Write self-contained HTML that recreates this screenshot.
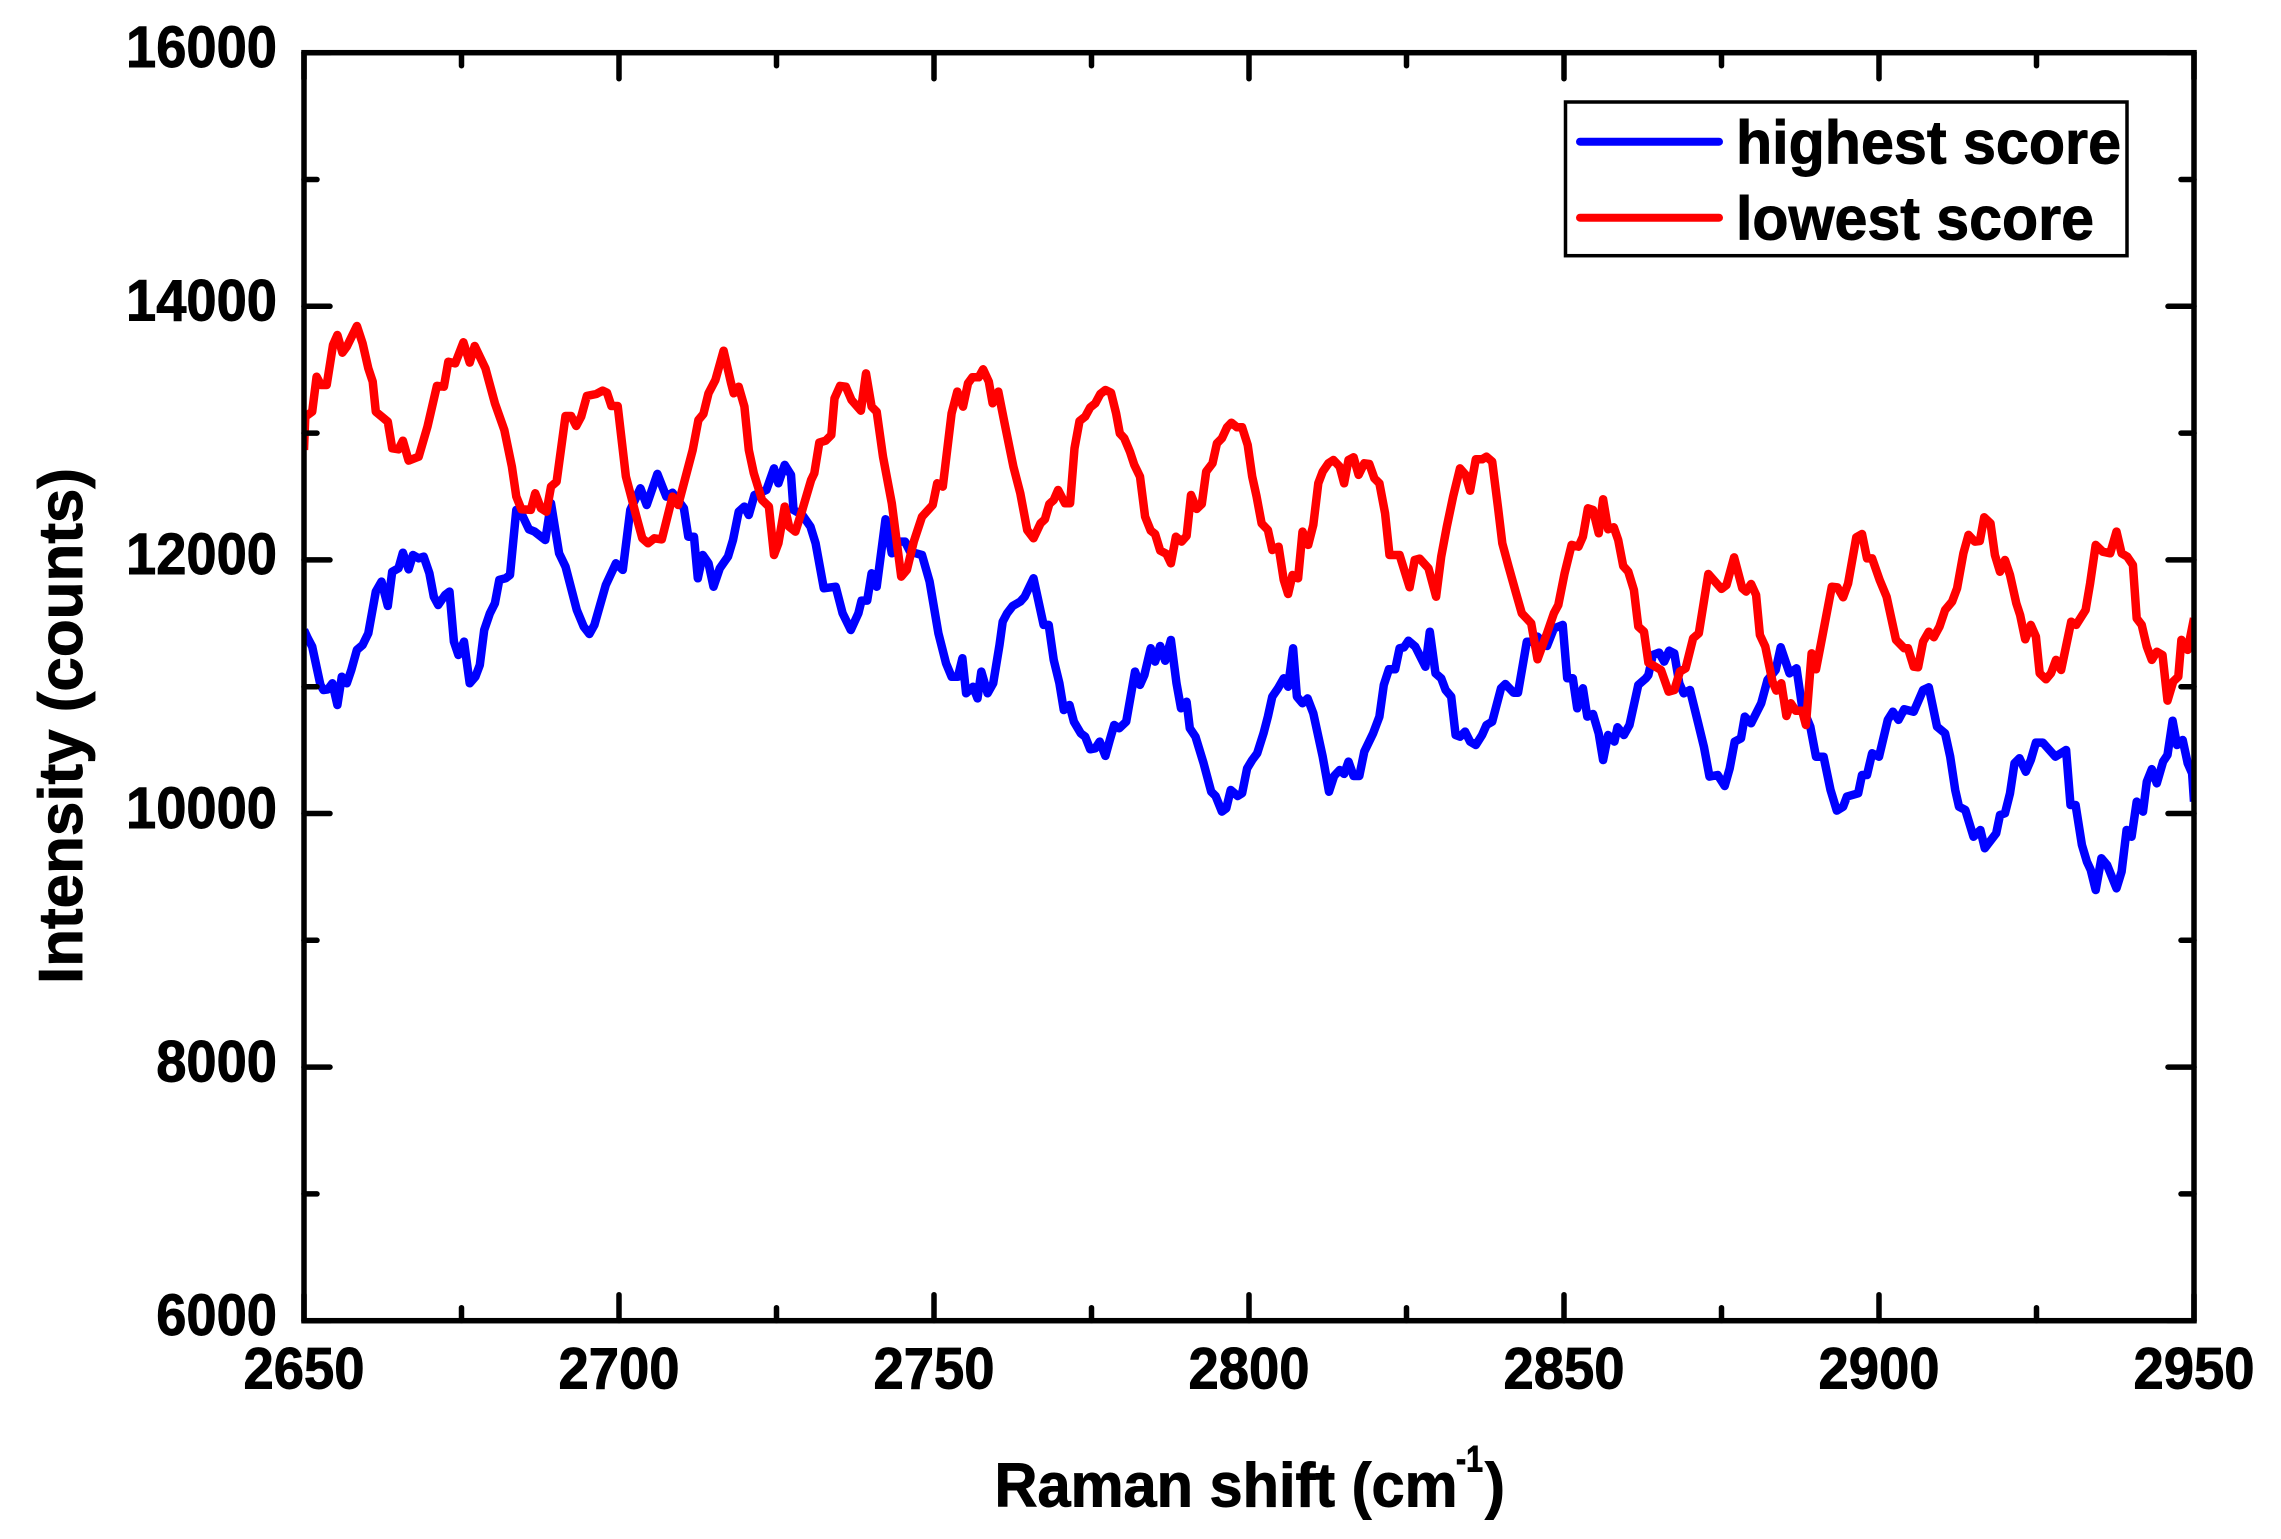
<!DOCTYPE html>
<html lang="en">
<head>
<meta charset="utf-8">
<title>Raman intensity chart</title>
<style>
html,body{margin:0;padding:0;background:#fff;}
svg{display:block;}
text{font-family:"Liberation Sans",Arial,sans-serif;font-weight:bold;fill:#000;stroke:#000;stroke-width:0.9px;}
</style>
</head>
<body>
<svg id="chart" width="2281" height="1539" viewBox="0 0 2281 1539" xmlns="http://www.w3.org/2000/svg">
  <defs><clipPath id="plot-clip"><rect x="304" y="52.7" width="1890" height="1268"/></clipPath></defs>
  <rect x="0" y="0" width="2281" height="1539" fill="#fff"/>
  <g id="series" clip-path="url(#plot-clip)"></g>
  <g id="ticks"></g>
  <rect x="304" y="52.7" width="1890" height="1268" fill="none" stroke="#000" stroke-width="5.5"/>
  <g id="tick-labels"></g>
  <text transform="translate(82,984) rotate(-90)" font-size="62" textLength="516" lengthAdjust="spacingAndGlyphs">Intensity (counts)</text>
  <g>
    <text x="994.5" y="1506.7" font-size="62" textLength="463" lengthAdjust="spacingAndGlyphs">Raman shift (cm</text>
    <text x="1456" y="1471.7" font-size="37" textLength="27" lengthAdjust="spacingAndGlyphs">-1</text>
    <text x="1485" y="1506.7" font-size="62" textLength="20" lengthAdjust="spacingAndGlyphs">)</text>
  </g>
  <g>
    <rect x="1565.5" y="102" width="561.5" height="153.7" fill="#fff" stroke="#000" stroke-width="3.5"/>
    <line x1="1580" y1="141.7" x2="1719" y2="141.7" stroke="#0000ff" stroke-width="8" stroke-linecap="round"/>
    <text x="1736" y="163.3" font-size="61" textLength="385" lengthAdjust="spacingAndGlyphs">highest score</text>
    <line x1="1580" y1="217.7" x2="1719" y2="217.7" stroke="#ff0000" stroke-width="8" stroke-linecap="round"/>
    <text x="1736" y="239.3" font-size="61" textLength="358" lengthAdjust="spacingAndGlyphs">lowest score</text>
  </g>
</svg>
<script>
const xMajorTicks = [2650, 2700, 2750, 2800, 2850, 2900, 2950];
const xMinorTicks = [2675, 2725, 2775, 2825, 2875, 2925];
const yMajorTicks = [6000, 8000, 10000, 12000, 14000, 16000];
const yMinorTicks = [7000, 9000, 11000, 13000, 15000];

const highestShift = [2650,2650.6,2651.3,2652.6,2653.1,2653.8,2654.5,2655.3,2656,2656.8,2657.5,2658.4,2659.3,2660.2,2661.4,2662.3,2663.3,2664,2665,2665.7,2666.6,2667.3,2668.2,2669,2669.9,2670.6,2671.3,2672.4,2673.1,2673.8,2674.5,2675.4,2676.3,2677.2,2677.9,2678.6,2679.5,2680.3,2681,2682,2682.7,2683.7,2684.5,2685.7,2686.6,2688.3,2689.2,2690.5,2691.5,2693.3,2694.4,2695.3,2696.1,2697.9,2699.5,2700.6,2701.8,2703.4,2704.4,2706.1,2707.5,2708.5,2710.3,2711,2711.9,2712.5,2713.3,2714.2,2715,2716,2717.3,2718.1,2719,2719.9,2720.6,2721.5,2723.4,2724.6,2725.3,2726.3,2727.3,2727.7,2729.1,2730.4,2731.2,2732.5,2734.4,2735.5,2736.8,2738,2738.5,2739.4,2740.1,2740.9,2742.3,2743.3,2744.3,2745.4,2746.2,2748.1,2749.3,2750.7,2751.9,2752.8,2753.8,2754.5,2755.1,2756.2,2756.9,2757.5,2758.5,2759.4,2760.4,2760.9,2761.6,2762.5,2763.7,2764.4,2765.8,2767.4,2768.2,2769,2769.9,2770.6,2771.5,2772.2,2773.3,2774,2774.8,2775.6,2776.3,2777.2,2777.9,2778.6,2779.4,2780.5,2781.9,2782.7,2783.4,2784.4,2785.1,2785.9,2786.7,2787.6,2788.5,2789.2,2790.1,2790.6,2791.5,2792.8,2794,2794.7,2795.7,2796.4,2797.1,2798.2,2798.9,2799.7,2800.5,2801.3,2802.3,2803,2803.7,2804.6,2805.5,2806.2,2807,2807.6,2808.5,2809.3,2810.2,2811.7,2812.7,2813.5,2814.4,2815.1,2815.8,2816.6,2817.5,2818.3,2819.7,2820.7,2821.4,2822.2,2823.2,2823.9,2824.6,2825.3,2826.4,2828,2828.7,2829.6,2830.5,2831.2,2832.1,2832.8,2833.5,2834.3,2835.1,2836,2837,2837.7,2838.6,2840,2840.7,2842,2842.7,2844.1,2844.8,2845.8,2847.3,2848.4,2849.8,2850.5,2851.4,2852.1,2853,2853.7,2854.6,2855.5,2856.2,2857,2858,2858.5,2859.5,2860.4,2861.8,2863,2863.4,2864.1,2865.1,2865.9,2866.7,2867.5,2868.3,2869,2870,2871.3,2872.2,2873.1,2874.4,2875.5,2876.3,2877.1,2878.1,2878.7,2879.7,2881.3,2882.3,2883.6,2884.4,2885.8,2886.9,2887.8,2889.1,2890,2891.2,2892.3,2893.3,2894.3,2894.9,2896.7,2897.3,2898.1,2898.9,2900,2901.4,2902.2,2903.1,2904,2905.5,2907,2907.9,2909.2,2910.5,2911.3,2912.1,2912.7,2913.7,2915,2916.1,2916.8,2918.6,2919.2,2920,2920.8,2921.5,2922.3,2923.3,2924.1,2924.9,2926,2928,2929.7,2930.4,2931.2,2932.2,2933,2933.6,2934.4,2935.3,2936.2,2937.7,2938.5,2939.3,2940.1,2940.9,2941.9,2942.5,2943.3,2944.1,2945.1,2945.8,2946.6,2947.3,2948.2,2949,2949.7,2950];
const highestCounts = [11447,11382,11316,11014,10974,10979,11027,10856,11079,11027,11132,11290,11329,11421,11750,11829,11637,11907,11934,12057,11926,12039,12013,12026,11894,11710,11644,11723,11750,11355,11250,11355,11027,11079,11171,11447,11579,11658,11842,11855,11881,12394,12367,12241,12223,12157,12446,12052,11947,11605,11474,11416,11487,11802,11973,11921,12394,12565,12433,12678,12499,12530,12407,12183,12183,11855,12039,11973,11789,11934,12026,12157,12380,12420,12354,12512,12551,12722,12604,12749,12670,12394,12354,12262,12131,11776,11789,11579,11447,11579,11679,11679,11894,11789,12320,12052,12144,12144,12065,12039,11829,11421,11185,11079,11079,11224,10948,11000,10908,11119,10948,11027,11329,11513,11579,11637,11671,11710,11855,11487,11487,11211,11027,10816,10856,10724,10632,10606,10506,10514,10567,10454,10580,10698,10672,10724,11119,11014,11092,11303,11198,11321,11205,11368,11027,10830,10882,10672,10606,10396,10172,10138,10015,10041,10185,10138,10159,10356,10422,10475,10632,10764,10922,10987,11066,11000,11303,10922,10869,10908,10790,10448,10172,10296,10343,10312,10409,10296,10296,10488,10632,10764,11014,11137,11137,11303,11311,11363,11316,11158,11434,11106,11066,10974,10922,10619,10606,10646,10567,10540,10619,10698,10724,10987,11021,10953,10953,11355,11355,11395,11321,11460,11487,11066,11066,10830,10987,10764,10785,10632,10422,10619,10567,10680,10619,10698,11014,11066,11092,11250,11269,11198,11284,11263,11027,10948,10974,10711,10527,10291,10304,10217,10356,10567,10593,10764,10711,10869,11053,11132,11311,11106,11145,10843,10685,10448,10448,10186,10023,10054,10133,10159,10304,10304,10475,10448,10738,10803,10738,10822,10803,10974,10995,10685,10632,10448,10186,10054,10028,9817,9870,9726,9844,9988,10002,10159,10396,10435,10330,10422,10559,10559,10448,10501,10067,10067,9752,9620,9555,9397,9647,9594,9410,9542,9870,9817,10094,10015,10251,10349,10238,10409,10462,10732,10540,10580,10396,10317,10094];

const lowestShift = [2650,2650.2,2651.3,2652,2652.7,2653.6,2654.6,2655.3,2656.1,2656.8,2658.4,2659.3,2660.2,2660.9,2661.4,2663.3,2664,2665,2665.7,2666.6,2668.2,2669.6,2671.1,2672.2,2672.9,2674,2675.3,2676.3,2677.1,2678.8,2680.3,2681.8,2683,2683.7,2684.5,2686,2686.7,2687.6,2688.5,2689.2,2690.1,2691.5,2692.4,2693.2,2694,2694.9,2696.4,2697.4,2698.1,2698.8,2699.8,2701.1,2702.9,2703.7,2704.6,2705.6,2706.8,2708.5,2709.4,2711.7,2712.6,2713.4,2714.2,2715.3,2716.6,2717.8,2718.2,2719,2719.9,2720.6,2721.4,2722.7,2723.8,2724.6,2725.3,2726.3,2727,2728,2729.1,2730.5,2731,2731.8,2732.8,2733.7,2734.2,2735.1,2736,2736.9,2738.4,2739.2,2740.1,2740.9,2741.9,2743.3,2744.8,2745.7,2746.8,2748.1,2749.8,2750.5,2751.4,2752.8,2753.7,2754.6,2755.4,2756.1,2757.1,2757.8,2758.7,2759.3,2760.2,2761.2,2762.6,2763.7,2764.8,2765.8,2766.9,2767.6,2768.3,2769,2769.7,2770.8,2771.6,2772.3,2773.1,2774,2774.8,2775.6,2776.4,2777.2,2778.1,2778.9,2779.5,2780.2,2781.1,2781.8,2782.7,2783.5,2784.4,2785.1,2785.9,2786.9,2787.6,2788.4,2789.3,2790.1,2790.8,2791.7,2792.5,2793.2,2794.2,2794.9,2795.7,2796.5,2797.2,2798.1,2798.9,2799.8,2800.5,2801.2,2802,2803,2803.7,2804.7,2805.5,2806.2,2806.9,2807.8,2808.5,2809.4,2810.2,2811,2811.7,2812.6,2813.4,2814.4,2815.1,2815.8,2816.6,2817.4,2818.3,2819.1,2819.9,2820.7,2821.6,2822.3,2823.9,2825.5,2826.3,2827.1,2828.5,2829.7,2830.5,2831.4,2832.4,2833.5,2834.4,2835.1,2836,2837,2837.7,2838.6,2839.5,2840.2,2841.2,2842.4,2843.3,2844.8,2845.8,2847.3,2848.4,2849.1,2850.1,2851.2,2852.3,2853,2853.8,2854.6,2855.5,2856.2,2857,2857.9,2858.6,2859.4,2860.2,2861.1,2861.8,2862.7,2863.4,2865.4,2866.6,2867.5,2868.4,2869.3,2870.5,2871.4,2872.9,2875,2875.8,2877,2878.3,2878.9,2879.7,2880.5,2881.1,2881.95,2883.1,2883.7,2884.5,2885.3,2886,2886.8,2887.8,2888.4,2889.3,2890,2890.7,2892.5,2893.4,2894.3,2895.1,2896.4,2897.3,2898.1,2898.9,2900.1,2901.2,2902.7,2904,2904.6,2905.5,2906.2,2907,2907.9,2908.7,2909.6,2910.5,2911.6,2912.4,2913.4,2914.2,2915.2,2916,2916.7,2917.7,2918.4,2919.2,2920,2920.8,2921.8,2922.4,2923.2,2924.1,2924.9,2925.5,2926.5,2927.3,2928.1,2928.9,2930.5,2931.3,2932.8,2933.5,2934.4,2935.5,2936.7,2937.7,2938.5,2939.4,2940.3,2940.9,2941.7,2942.5,2943.3,2944.1,2945,2945.8,2946.7,2947.5,2948,2949,2950];
const lowestCounts = [12867,13130,13169,13445,13379,13379,13695,13774,13634,13682,13845,13708,13511,13406,13169,13090,12880,12872,12940,12783,12814,13051,13372,13366,13563,13550,13716,13556,13687,13511,13235,13025,12735,12499,12399,12394,12525,12407,12380,12578,12617,13135,13135,13056,13130,13293,13308,13335,13319,13214,13214,12657,12315,12170,12131,12170,12162,12499,12433,12867,13103,13151,13314,13419,13650,13393,13314,13366,13209,12867,12683,12473,12420,12039,12131,12420,12262,12223,12394,12630,12683,12925,12940,12985,13274,13372,13366,13261,13177,13471,13209,13169,12814,12446,11868,11921,12144,12341,12433,12604,12578,13156,13327,13209,13393,13440,13440,13503,13406,13235,13327,13077,12735,12525,12236,12170,12288,12320,12441,12472,12551,12446,12446,12880,13095,13130,13203,13235,13308,13340,13319,13156,12998,12959,12854,12749,12657,12341,12231,12204,12073,12047,11973,12183,12144,12189,12512,12402,12441,12696,12762,12919,12959,13046,13082,13046,13046,12906,12657,12499,12288,12236,12078,12104,11842,11731,11881,11855,12223,12118,12275,12604,12696,12762,12788,12735,12604,12788,12809,12670,12762,12756,12643,12604,12367,12039,12039,11784,11999,12010,11934,11710,12026,12262,12499,12722,12670,12546,12793,12793,12814,12775,12420,12131,11947,11736,11579,11500,11216,11421,11579,11644,11894,12118,12104,12183,12407,12394,12210,12478,12241,12257,12157,11952,11907,11763,11474,11434,11190,11132,10961,10974,11119,11145,11382,11421,11889,11771,11802,12020,11776,11750,11810,11723,11408,11316,11040,10969,11027,10769,10869,10811,10811,10698,11263,11137,11316,11789,11784,11705,11815,12178,12204,12012,12012,11842,11710,11369,11303,11303,11158,11153,11355,11434,11390,11474,11605,11671,11776,12052,12197,12144,12149,12336,12289,12039,11907,11999,11881,11658,11566,11374,11487,11395,11106,11058,11106,11211,11132,11513,11487,11605,11815,12118,12065,12052,12223,12052,12026,11960,11539,11487,11316,11211,11276,11250,10890,11040,11079,11369,11290,11540];

const SVG_NS = 'http://www.w3.org/2000/svg';
const plot = { left: 304, right: 2194, top: 52.7, bottom: 1320.7 };
const xDomain = [2650, 2950];
const yDomain = [6000, 16000];
function xScale(v) { return plot.left + (v - xDomain[0]) / (xDomain[1] - xDomain[0]) * (plot.right - plot.left); }
function yScale(v) { return plot.bottom - (v - yDomain[0]) / (yDomain[1] - yDomain[0]) * (plot.bottom - plot.top); }

const seriesGroup = document.getElementById('series');
const ticksGroup = document.getElementById('ticks');
const labelsGroup = document.getElementById('tick-labels');

function drawSeries(shifts, counts, color, name) {
  const path = document.createElementNS(SVG_NS, 'path');
  let d = '';
  for (let i = 0; i < shifts.length; i++) {
    d += (i ? 'L' : 'M') + xScale(shifts[i]).toFixed(1) + ' ' + yScale(counts[i]).toFixed(1);
  }
  path.setAttribute('d', d);
  path.setAttribute('fill', 'none');
  path.setAttribute('stroke', color);
  path.setAttribute('stroke-width', '8.5');
  path.setAttribute('stroke-linejoin', 'round');
  
  
  seriesGroup.appendChild(path);
}
drawSeries(highestShift, highestCounts, '#0000ff', 'series-highest-score');
drawSeries(lowestShift, lowestCounts, '#ff0000', 'series-lowest-score');

function drawTick(x1, y1, x2, y2) {
  const t = document.createElementNS(SVG_NS, 'line');
  t.setAttribute('x1', x1);
  t.setAttribute('y1', y1);
  t.setAttribute('x2', x2);
  t.setAttribute('y2', y2);
  t.setAttribute('stroke', '#000');
  t.setAttribute('stroke-width', '5.5');
  t.setAttribute('stroke-linecap', 'round');
  
  
  ticksGroup.appendChild(t);
}
const majorLen = 26;
const minorLen = 13;
xMajorTicks.concat(xMinorTicks).forEach(function (v) {
  const len = xMajorTicks.includes(v) ? majorLen : minorLen;
  const x = xScale(v);
  drawTick(x, plot.bottom, x, plot.bottom - len);
  drawTick(x, plot.top, x, plot.top + len);
});
yMajorTicks.concat(yMinorTicks).forEach(function (v) {
  const len = yMajorTicks.includes(v) ? majorLen : minorLen;
  const y = yScale(v);
  drawTick(plot.left, y, plot.left + len, y);
  drawTick(plot.right, y, plot.right - len, y);
});

xMajorTicks.forEach(function (v) {
  const t = document.createElementNS(SVG_NS, 'text');
  t.textContent = String(v);
  t.setAttribute('x', xScale(v));
  t.setAttribute('y', 1388.7);
  t.setAttribute('font-size', '58');
  t.setAttribute('text-anchor', 'middle');
  t.setAttribute('textLength', '121');
  t.setAttribute('lengthAdjust', 'spacingAndGlyphs');
  
  
  labelsGroup.appendChild(t);
});
yMajorTicks.forEach(function (v) {
  const t = document.createElementNS(SVG_NS, 'text');
  const s = String(v);
  t.textContent = s;
  t.setAttribute('x', 277);
  t.setAttribute('y', yScale(v) + 14.3);
  t.setAttribute('font-size', '58');
  t.setAttribute('text-anchor', 'end');
  t.setAttribute('textLength', String(s.length * 30.2));
  t.setAttribute('lengthAdjust', 'spacingAndGlyphs');
  
  
  labelsGroup.appendChild(t);
});
</script>
</body>
</html>
